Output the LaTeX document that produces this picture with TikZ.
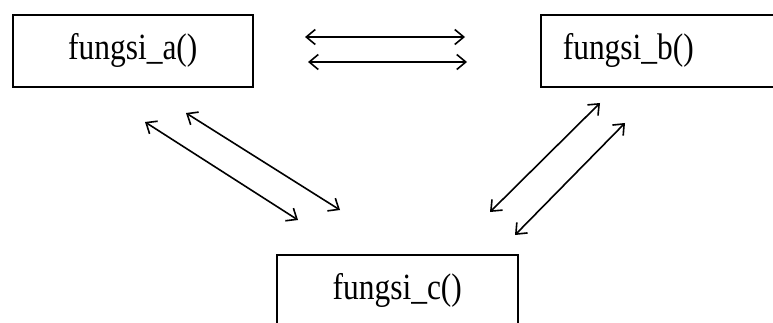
\documentclass[tikz,border=0pt]{standalone}
\usepackage{graphicx}
\usepackage{fontspec}
\setmainfont{Liberation Serif}
\usetikzlibrary{arrows.meta}
\tikzset{
  fbox/.style={draw, line width=1.6pt, inner xsep=0pt, inner ysep=0pt,
    text height=45pt, text depth=27pt,
    font=\fontsize{37}{40}\selectfont},
  biarrow/.style={line width=1.6pt, {Straight Barb[length=9pt,width=15pt]}-{Straight Barb[length=9pt,width=15pt]}},
}
\newcommand{\ftext}[1]{\scalebox{0.85}[1]{#1}}
\begin{document}
\begin{tikzpicture}[x=1pt,y=-1pt]
\useasboundingbox (0,0) rectangle (773,323);
\clip (0,0) rectangle (773,323);
\fill[white] (0,0) rectangle (773,323);
\node[fbox, minimum width=240pt, anchor=north west] (a) at (12,14) {\ftext{fungsi\_a()}};
\node[fbox, text width=200pt, align=left, inner xsep=22pt, anchor=north west] (b) at (540,14) {\ftext{fungsi\_b()}};
\node[fbox, minimum width=241pt, anchor=north west] (c) at (276,254) {\ftext{fungsi\_c()}};
% endpoints
\coordinate (h1l) at (305,37);  \coordinate (h1r) at (465,37);
\coordinate (h2l) at (308,62);  \coordinate (h2r) at (467,62);
\coordinate (l1a) at (145,122); \coordinate (l1c) at (298,220);
\coordinate (l2a) at (186,113); \coordinate (l2c) at (340,210);
\coordinate (r1c) at (490,212); \coordinate (r1b) at (600,103);
\coordinate (r2c) at (515,235); \coordinate (r2b) at (625,123);
\draw[biarrow] (h1l) -- (h1r);
\draw[biarrow] (h2l) -- (h2r);
\draw[biarrow] (l1a) -- (l1c);
\draw[biarrow] (l2a) -- (l2c);
\draw[biarrow] (r1c) -- (r1b);
\draw[biarrow] (r2c) -- (r2b);
\end{tikzpicture}
\end{document}
